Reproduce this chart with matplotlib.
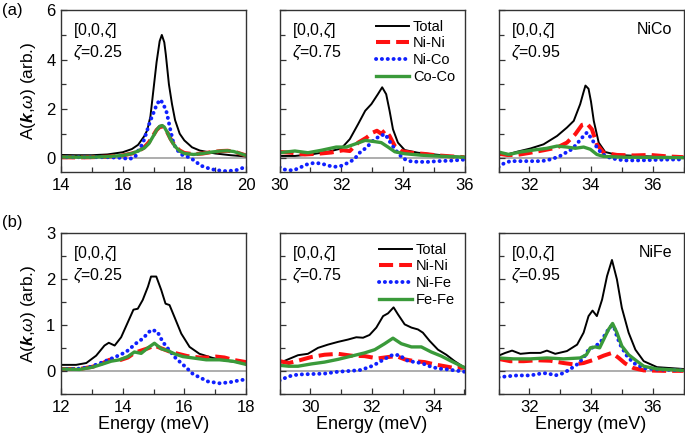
import matplotlib
matplotlib.use("Agg")
import matplotlib.pyplot as plt
from matplotlib.ticker import MultipleLocator

plt.rcParams['font.family'] = ['Liberation Sans', 'DejaVu Sans']
plt.rcParams['mathtext.fontset'] = 'custom'
plt.rcParams['mathtext.rm'] = 'Liberation Sans'
plt.rcParams['mathtext.it'] = 'Liberation Sans:italic'
plt.rcParams['mathtext.bf'] = 'Liberation Sans:bold:italic'

# ---------------- data ----------------
# (a) NiCo, zeta = 0.25
a1_total_x = [14.0, 14.5, 15.0, 15.5, 16.0, 16.3, 16.5, 16.7, 16.8, 16.9, 17.0, 17.1, 17.2, 17.27, 17.35, 17.4, 17.5, 17.6, 17.7, 17.85, 18.0, 18.25, 18.5, 19.0, 19.5, 20.0]
a1_total_y = [0.14, 0.13, 0.13, 0.16, 0.25, 0.38, 0.55, 0.9, 1.15, 1.7, 2.8, 3.9, 4.75, 5.0, 4.7, 4.2, 3.0, 2.2, 1.55, 1.0, 0.73, 0.45, 0.32, 0.2, 0.13, 0.08]
a1_nini_x = [14.0, 14.5, 15.0, 15.5, 16.0, 16.3, 16.5, 16.7, 16.85, 17.0, 17.1, 17.2, 17.28, 17.35, 17.45, 17.55, 17.7, 17.85, 18.0, 18.3, 18.6, 18.9, 19.2, 19.4, 19.6, 19.8, 20.0]
a1_nini_y = [0.05, 0.04, 0.05, 0.07, 0.12, 0.2, 0.28, 0.45, 0.65, 0.95, 1.15, 1.27, 1.3, 1.25, 1.05, 0.8, 0.5, 0.32, 0.22, 0.17, 0.2, 0.26, 0.3, 0.31, 0.28, 0.2, 0.12]
a1_nix_x = [14.0, 14.5, 15.0, 15.5, 16.0, 16.2, 16.4, 16.5, 16.65, 16.76, 16.89, 17.03, 17.11, 17.22, 17.32, 17.43, 17.54, 17.65, 17.76, 17.92, 18.14, 18.35, 18.51, 18.73, 19.0, 19.38, 19.7, 20.0]
a1_nix_y = [0.06, 0.05, 0.05, 0.05, 0.02, -0.03, 0.05, 0.3, 0.6, 1.0, 1.5, 1.94, 2.2, 2.38, 2.2, 1.85, 1.2, 0.6, 0.35, 0.15, 0.05, -0.1, -0.28, -0.38, -0.47, -0.52, -0.47, -0.34]
a1_xx_x = [14.0, 14.5, 15.0, 15.5, 16.0, 16.3, 16.5, 16.7, 16.85, 17.0, 17.1, 17.2, 17.28, 17.35, 17.45, 17.55, 17.7, 17.85, 18.0, 18.3, 18.6, 18.9, 19.2, 19.4, 19.6, 19.8, 20.0]
a1_xx_y = [0.06, 0.05, 0.05, 0.07, 0.12, 0.2, 0.3, 0.42, 0.6, 0.92, 1.15, 1.3, 1.33, 1.27, 1.05, 0.78, 0.48, 0.3, 0.2, 0.16, 0.2, 0.26, 0.3, 0.31, 0.28, 0.2, 0.12]

# (a) NiCo, zeta = 0.75
a2_total_x = [30.0, 30.5, 31.0, 31.57, 32.0, 32.28, 32.55, 32.78, 32.98, 33.19, 33.33, 33.46, 33.57, 33.68, 33.84, 34.06, 34.49, 35.03, 35.5, 36.0]
a2_total_y = [0.1, 0.1, 0.16, 0.27, 0.4, 0.78, 1.39, 1.93, 2.2, 2.6, 2.88, 2.6, 1.93, 1.18, 0.64, 0.34, 0.23, 0.16, 0.1, 0.05]
a2_nini_x = [30.0, 30.38, 30.82, 31.25, 31.68, 32.06, 32.28, 32.55, 32.82, 33.03, 33.16, 33.3, 33.43, 33.57, 33.74, 33.95, 34.28, 34.71, 35.14, 35.6, 36.0]
a2_nini_y = [0.26, 0.23, 0.16, 0.19, 0.24, 0.33, 0.3, 0.64, 0.84, 1.05, 1.12, 1.0, 1.14, 0.91, 0.5, 0.3, 0.23, 0.18, 0.12, 0.08, 0.05]
a2_nix_x = [30.0, 30.17, 30.44, 30.65, 30.87, 31.09, 31.34, 31.57, 31.79, 32.0, 32.22, 32.42, 32.6, 32.82, 33.03, 33.25, 33.43, 33.63, 33.79, 34.0, 34.22, 34.49, 34.82, 35.14, 35.57, 36.0]
a2_nix_y = [-0.35, -0.45, -0.49, -0.38, -0.25, -0.19, -0.2, -0.29, -0.34, -0.3, -0.18, -0.04, 0.23, 0.44, 0.71, 0.91, 0.98, 0.57, 0.3, 0.0, -0.11, -0.14, -0.14, -0.11, -0.09, -0.05]
a2_xx_x = [30.0, 30.5, 30.92, 31.36, 31.84, 32.17, 32.49, 32.78, 33.09, 33.3, 33.52, 33.74, 34.06, 34.6, 35.2, 36.0]
a2_xx_y = [0.23, 0.3, 0.23, 0.33, 0.46, 0.46, 0.6, 0.73, 0.68, 0.64, 0.46, 0.27, 0.19, 0.13, 0.09, 0.05]

# (a) NiCo, zeta = 0.95
a3_total_x = [31.0, 31.28, 31.6, 32.03, 32.46, 32.9, 33.22, 33.44, 33.65, 33.75, 33.82, 33.92, 34.0, 34.09, 34.25, 34.46, 34.84, 35.49, 36.2, 37.0]
a3_total_y = [0.26, 0.16, 0.27, 0.4, 0.57, 0.91, 1.25, 1.52, 2.2, 2.65, 2.95, 2.82, 2.3, 1.52, 0.64, 0.26, 0.14, 0.1, 0.07, 0.05]
a3_nini_x = [31.0, 31.28, 31.6, 32.03, 32.46, 32.9, 33.22, 33.49, 33.71, 33.87, 34.03, 34.19, 34.41, 34.84, 35.4, 35.92, 36.5, 37.0]
a3_nini_y = [0.19, 0.14, 0.14, 0.23, 0.33, 0.44, 0.64, 0.98, 1.36, 1.41, 1.18, 0.57, 0.23, 0.14, 0.12, 0.14, 0.08, 0.05]
a3_nix_x = [31.0, 31.15, 31.38, 31.82, 32.36, 32.57, 32.79, 33.0, 33.22, 33.38, 33.55, 33.71, 33.87, 34.03, 34.14, 34.3, 34.46, 34.68, 35.06, 35.6, 36.36, 37.0]
a3_nix_y = [-0.35, -0.22, -0.11, -0.11, -0.11, -0.08, 0.0, 0.1, 0.26, 0.37, 0.6, 0.84, 1.05, 0.78, 0.54, 0.27, 0.1, 0.0, -0.08, -0.08, -0.05, -0.04]
a3_xx_x = [31.0, 31.33, 31.71, 32.14, 32.57, 32.9, 33.22, 33.49, 33.76, 33.98, 34.19, 34.41, 35.06, 36.0, 37.0]
a3_xx_y = [0.26, 0.16, 0.26, 0.34, 0.41, 0.5, 0.46, 0.41, 0.46, 0.37, 0.16, 0.08, 0.05, 0.04, 0.03]

# (b) NiFe, zeta = 0.25
b1_total_x = [12.0, 12.49, 12.82, 13.14, 13.41, 13.55, 13.74, 13.95, 14.17, 14.35, 14.49, 14.65, 14.82, 14.92, 15.09, 15.25, 15.39, 15.52, 15.68, 15.9, 16.17, 16.49, 16.92, 17.36, 18.0]
b1_total_y = [0.14, 0.14, 0.18, 0.34, 0.56, 0.62, 0.56, 0.74, 1.07, 1.34, 1.36, 1.55, 1.84, 2.06, 2.06, 1.77, 1.47, 1.44, 1.18, 0.82, 0.53, 0.38, 0.29, 0.23, 0.17]
b1_nini_x = [12.0, 12.6, 13.03, 13.36, 13.57, 13.9, 14.17, 14.38, 14.55, 14.82, 15.03, 15.25, 15.52, 15.8, 16.1, 16.49, 16.8, 17.03, 17.3, 17.57, 18.0]
b1_nini_y = [0.05, 0.05, 0.1, 0.18, 0.25, 0.24, 0.3, 0.4, 0.44, 0.5, 0.56, 0.5, 0.43, 0.38, 0.33, 0.3, 0.3, 0.32, 0.3, 0.25, 0.2]
b1_nix_x = [12.0, 12.5, 12.92, 13.36, 13.79, 14.11, 14.44, 14.65, 14.92, 15.12, 15.3, 15.52, 15.74, 15.9, 16.11, 16.28, 16.49, 16.76, 17.14, 17.46, 17.84, 18.0]
b1_nix_y = [0.05, 0.05, 0.09, 0.2, 0.32, 0.42, 0.61, 0.71, 0.9, 0.87, 0.64, 0.45, 0.27, 0.18, 0.05, -0.06, -0.13, -0.22, -0.26, -0.24, -0.19, -0.18]
b1_xx_x = [12.0, 12.6, 13.03, 13.36, 13.63, 13.9, 14.17, 14.38, 14.6, 14.82, 15.03, 15.25, 15.46, 15.68, 15.95, 16.28, 16.71, 17.14, 17.57, 18.0]
b1_xx_y = [0.05, 0.04, 0.09, 0.16, 0.22, 0.25, 0.32, 0.42, 0.39, 0.51, 0.61, 0.49, 0.45, 0.38, 0.32, 0.29, 0.25, 0.25, 0.22, 0.15]

# (b) NiFe, zeta = 0.75
b2_total_x = [29.0, 29.28, 29.6, 29.92, 30.25, 30.57, 30.9, 31.22, 31.49, 31.71, 31.92, 32.14, 32.36, 32.52, 32.7, 32.84, 33.06, 33.28, 33.49, 33.65, 33.87, 34.14, 34.41, 34.68, 35.0]
b2_total_y = [0.18, 0.26, 0.35, 0.38, 0.51, 0.58, 0.64, 0.69, 0.74, 0.73, 0.79, 0.95, 1.2, 1.26, 1.39, 1.24, 1.02, 0.95, 0.91, 0.84, 0.66, 0.47, 0.36, 0.22, 0.08]
b2_nini_x = [29.0, 29.3, 29.6, 30.03, 30.46, 30.9, 31.33, 31.76, 32.19, 32.52, 32.79, 33.06, 33.38, 33.71, 34.03, 34.36, 34.68, 35.0]
b2_nini_y = [0.22, 0.18, 0.23, 0.31, 0.36, 0.38, 0.34, 0.33, 0.28, 0.31, 0.33, 0.26, 0.22, 0.2, 0.15, 0.11, 0.07, 0.08]
b2_nix_x = [29.0, 29.3, 29.6, 30.03, 30.46, 30.9, 31.33, 31.65, 31.98, 32.19, 32.41, 32.68, 32.9, 33.11, 33.38, 33.6, 33.87, 34.14, 34.46, 34.78, 35.0]
b2_nix_y = [-0.2, -0.11, -0.07, -0.06, -0.05, -0.01, 0.01, 0.03, 0.11, 0.18, 0.27, 0.36, 0.35, 0.24, 0.2, 0.18, 0.11, 0.06, 0.04, 0.01, -0.01]
b2_xx_x = [29.0, 29.3, 29.6, 30.03, 30.46, 30.9, 31.33, 31.76, 32.09, 32.41, 32.68, 32.95, 33.28, 33.6, 33.92, 34.25, 34.57, 35.0]
b2_xx_y = [0.13, 0.11, 0.11, 0.16, 0.2, 0.26, 0.33, 0.4, 0.47, 0.6, 0.72, 0.6, 0.53, 0.53, 0.42, 0.33, 0.22, 0.08]

# (b) NiFe, zeta = 0.95
b3_total_x = [31.0, 31.22, 31.44, 31.71, 32.03, 32.36, 32.57, 32.84, 33.22, 33.55, 33.76, 33.92, 34.05, 34.19, 34.36, 34.52, 34.68, 34.84, 35.0, 35.22, 35.44, 35.71, 36.14, 37.0]
b3_total_y = [0.34, 0.4, 0.45, 0.38, 0.4, 0.4, 0.45, 0.38, 0.44, 0.58, 0.84, 1.2, 1.32, 1.2, 1.56, 2.07, 2.42, 2.0, 1.38, 0.84, 0.47, 0.22, 0.09, 0.05]
b3_nini_x = [31.0, 31.38, 31.82, 32.25, 32.68, 33.11, 33.44, 33.76, 34.09, 34.41, 34.68, 34.9, 35.11, 35.38, 35.71, 36.36, 37.0]
b3_nini_y = [0.27, 0.22, 0.22, 0.24, 0.23, 0.18, 0.15, 0.18, 0.25, 0.34, 0.4, 0.29, 0.17, 0.07, 0.02, 0.01, 0.01]
b3_nix_x = [31.0, 31.27, 31.6, 32.03, 32.36, 32.57, 32.84, 33.11, 33.33, 33.55, 33.76, 33.92, 34.14, 34.3, 34.46, 34.62, 34.74, 34.84, 34.97, 35.17, 35.38, 35.71, 36.14, 37.0]
b3_nix_y = [-0.13, -0.11, -0.09, -0.09, -0.05, -0.04, -0.09, -0.04, 0.05, 0.15, 0.29, 0.47, 0.55, 0.62, 0.8, 0.97, 0.98, 0.76, 0.55, 0.33, 0.18, 0.07, 0.04, 0.02]
b3_xx_x = [31.0, 31.49, 32.03, 32.57, 33.11, 33.65, 33.85, 33.98, 34.14, 34.28, 34.41, 34.57, 34.7, 34.84, 35.0, 35.22, 35.49, 35.71, 36.14, 37.0]
b3_xx_y = [0.29, 0.27, 0.27, 0.29, 0.27, 0.29, 0.36, 0.51, 0.53, 0.51, 0.69, 0.91, 1.04, 0.84, 0.55, 0.36, 0.22, 0.11, 0.05, 0.02]

labels_a = ["Total", "Ni-Ni", "Ni-Co", "Co-Co"]
labels_b = ["Total", "Ni-Ni", "Ni-Fe", "Fe-Fe"]
zetas = ["0.25", "0.75", "0.95"]
xlims_a = [(14, 20), (30, 36), (31, 37)]
xlims_b = [(12, 18), (29, 35), (31, 37)]
xticks_a = [[14, 16, 18, 20], [30, 32, 34, 36], [32, 34, 36]]
xticks_b = [[12, 14, 16, 18], [30, 32, 34], [32, 34, 36]]

# ---------------- figure ----------------
W, H = 685, 438
fig = plt.figure(figsize=(W / 100, H / 100), dpi=100)

lefts = [61, 279.5, 498.5]
width = 185
rows = [(10.25, 172.0), (233.3, 394.3)]

styles = [
    dict(color='black', lw=1.4, ls='-'),
    dict(color='#ff1010', lw=2.9, ls=(0, (3.5, 1.5)), dash_capstyle='butt'),
    dict(color='#1020ff', lw=2.8, ls=(0, (0.05, 1.45)), dash_capstyle='round'),
    dict(color='#3a9a3a', lw=2.4, ls='-'),
]

panels = [
    [(a1_total_x, a1_total_y), (a1_nini_x, a1_nini_y), (a1_nix_x, a1_nix_y), (a1_xx_x, a1_xx_y)],
    [(a2_total_x, a2_total_y), (a2_nini_x, a2_nini_y), (a2_nix_x, a2_nix_y), (a2_xx_x, a2_xx_y)],
    [(a3_total_x, a3_total_y), (a3_nini_x, a3_nini_y), (a3_nix_x, a3_nix_y), (a3_xx_x, a3_xx_y)],
    [(b1_total_x, b1_total_y), (b1_nini_x, b1_nini_y), (b1_nix_x, b1_nix_y), (b1_xx_x, b1_xx_y)],
    [(b2_total_x, b2_total_y), (b2_nini_x, b2_nini_y), (b2_nix_x, b2_nix_y), (b2_xx_x, b2_xx_y)],
    [(b3_total_x, b3_total_y), (b3_nini_x, b3_nini_y), (b3_nix_x, b3_nix_y), (b3_xx_x, b3_xx_y)],
]

spine_col = '#333333'
for r in range(2):
    top, bot = rows[r]
    for c in range(3):
        ax = fig.add_axes([lefts[c] / W, 1 - bot / H, width / W, (bot - top) / H])
        ax.axhline(0, color='#a0a0a0', lw=1.2, zorder=1)
        labels = labels_a if r == 0 else labels_b
        for (xs, ys), st, lab in zip(panels[r * 3 + c], styles, labels):
            ax.plot(xs, ys, label=lab, zorder=2, **st)
        if r == 0:
            ax.set_xlim(*xlims_a[c])
            ax.set_ylim(-0.55, 6)
            ax.set_xticks(xticks_a[c])
            ax.yaxis.set_major_locator(MultipleLocator(2))
            ax.yaxis.set_minor_locator(MultipleLocator(1))
        else:
            ax.set_xlim(*xlims_b[c])
            ax.set_ylim(-0.5, 3)
            ax.set_xticks(xticks_b[c])
            ax.yaxis.set_major_locator(MultipleLocator(1))
            ax.yaxis.set_minor_locator(MultipleLocator(0.5))
            ax.set_xlabel("Energy (meV)", fontsize=13, labelpad=1)
        ax.xaxis.set_minor_locator(MultipleLocator(1))
        ax.tick_params(which='both', direction='in', labelsize=12, colors=spine_col,
                       labelcolor='black', pad=4)
        ax.tick_params(which='major', length=4, width=0.9)
        ax.tick_params(which='minor', length=3.5, width=0.9)
        for s in ax.spines.values():
            s.set_color(spine_col)
            s.set_linewidth(1.0)
        if c == 0:
            ax.set_ylabel(r"A($\mathbf{k}$,$\omega$) (arb.)", fontsize=12.5, labelpad=6)
        else:
            ax.tick_params(labelleft=False)
        ax.text(0.065, 0.93, r"[0,0,$\zeta$]", transform=ax.transAxes, fontsize=11.5,
                va='top', ha='left')
        ax.text(0.065, 0.79, r"$\zeta$=" + zetas[c], transform=ax.transAxes, fontsize=11.5,
                va='top', ha='left')
        if c == 2:
            ax.text(0.94, 0.93, "NiCo" if r == 0 else "NiFe", transform=ax.transAxes,
                    fontsize=11.5, va='top', ha='right')
        if c == 1:
            ax.legend(loc='upper right', bbox_to_anchor=(1.0, 1.0), frameon=False,
                      fontsize=10.5, handlelength=2.3, handletextpad=0.25,
                      labelspacing=0.18, borderaxespad=0.25)

fig.text(2 / W, 1 - 10 / H, "(a)", fontsize=12, va='center', ha='left')
fig.text(2 / W, 1 - 222 / H, "(b)", fontsize=12, va='center', ha='left')

fig.savefig("out.png", dpi=100)
